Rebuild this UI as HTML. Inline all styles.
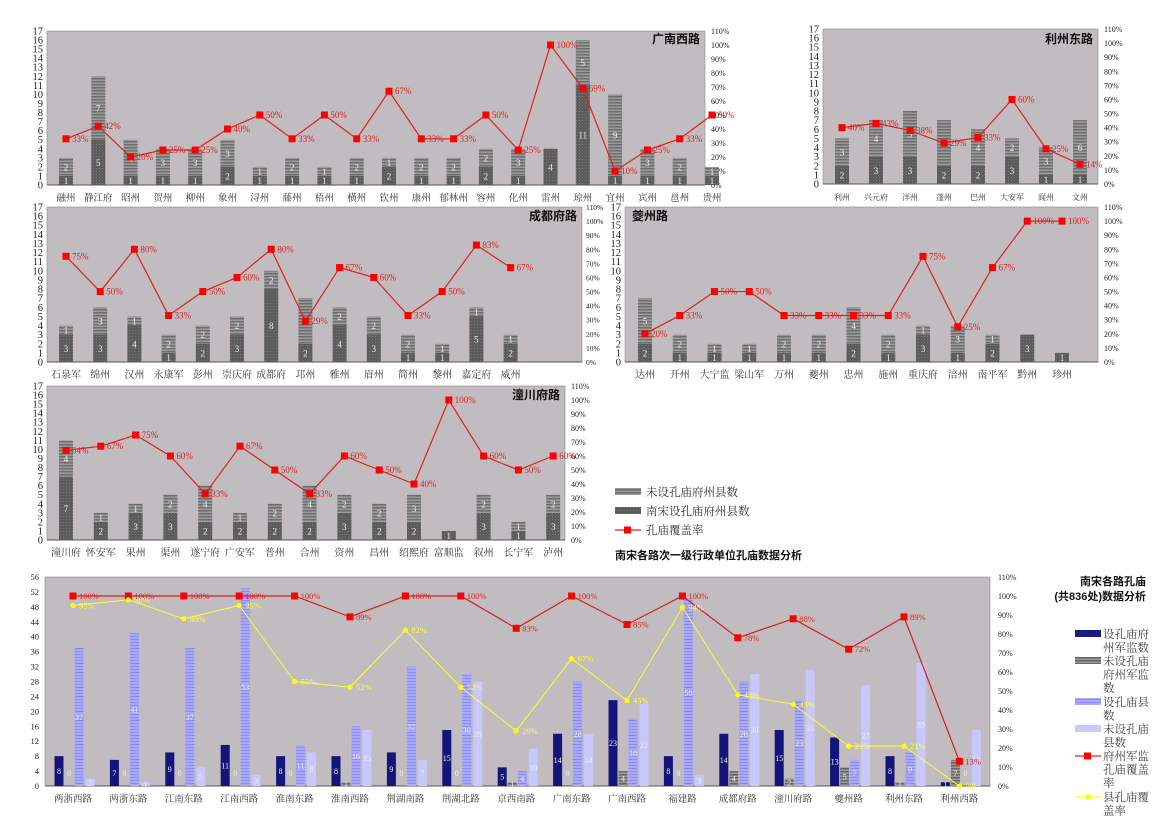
<!DOCTYPE html>
<html><head><meta charset="utf-8"><style>
html,body{margin:0;padding:0;background:#fff;width:1176px;height:831px;overflow:hidden}
svg{display:block}
text{font-family:"Liberation Serif","Noto Serif CJK SC",serif}
.b{font-family:"Liberation Sans","Noto Sans CJK SC",sans-serif;font-weight:bold}
</style></head><body>
<svg id="s" width="1176" height="831" xmlns="http://www.w3.org/2000/svg">
<defs>
<pattern id="st" width="4" height="3" patternUnits="userSpaceOnUse"><rect width="4" height="3" fill="#9a9a9a"/><rect width="4" height="1.5" fill="#6e6e6e"/></pattern>
<pattern id="dk" width="3" height="3" patternUnits="userSpaceOnUse"><rect width="3" height="3" fill="#5c5c5c"/><rect width="1" height="1" fill="#777"/></pattern>
<pattern id="bl" width="4" height="3" patternUnits="userSpaceOnUse"><rect width="4" height="3" fill="#a8a8ff"/><rect width="4" height="1" fill="#8c8cf0"/></pattern>
<pattern id="gr" width="4" height="3" patternUnits="userSpaceOnUse"><rect width="4" height="3" fill="#9a9a9a"/><rect width="4" height="1.5" fill="#666"/></pattern>
</defs>
</svg>
<script>
var S=document.getElementById('s'),h='';
function t(x,y,s,sz,col,anc,cls){h+='<text x="'+x+'" y="'+y+'" font-size="'+sz+'" fill="'+(col||'#222')+'" text-anchor="'+(anc||'start')+'"'+(cls?' class="'+cls+'"':'')+'>'+s+'</text>';}
function r(x,y,w,hh,f,st){h+='<rect x="'+x+'" y="'+y+'" width="'+w+'" height="'+hh+'" fill="'+f+'"'+(st?' stroke="'+st+'" stroke-width="0.6"':'')+'/>';}
function chart(o){
 var W=o.x1-o.x0,H=o.yb-o.yt;
 r(o.x0,o.yt,W,H,'#c0bcc0','#888');
 h+='<line x1="'+o.x0+'" y1="'+o.yb+'" x2="'+o.x1+'" y2="'+o.yb+'" stroke="#555" stroke-width="1"/>';
 for(var i=0;i<=17;i++){var y=o.yb-H*i/17;t(o.x0-4,y+3.5,i,10.5,'#222','end');}
 for(var i=0;i<=11;i++){var y=o.yb-H*i/11;t(o.x1+(o.rg||6),y+3,(i*10)+'%',o.rs||8,'#222');}
 var n=o.c.length,pts=[];
 for(var i=0;i<n;i++){
  var cx=o.c0+o.sp*i,d=o.d[i],u=H/17,bw=14;
  var hd=d[0]*u,hs=d[1]*u;
  r(cx-bw/2,o.yb-hd,bw,hd,'url(#dk)');
  if(d[1])r(cx-bw/2,o.yb-hd-hs,bw,hs,'url(#st)');
  if(d[0]){t(cx,o.yb-hd/2+3.5,d[0],9,'#eee','middle');}
  if(d[1]){t(cx,o.yb-hd-hs/2+3.5,d[1],9,'#eee','middle');}
  var py=o.yb-H*d[2]/110;pts.push(cx+','+py);
  t(cx,o.yb+16,o.c[i],o.fs||10,'#333','middle');
 }
 h+='<polyline points="'+pts.join(' ')+'" fill="none" stroke="#e02020" stroke-width="1.2"/>';
 for(var i=0;i<n;i++){var p=pts[i].split(',');r(+p[0]-3.5,+p[1]-3.5,7,7,'#f00');t(+p[0]+6,+p[1]+3,o.d[i][2]+'%',9,'#e02020');}
 t(o.tx,o.ty,o.title,12,'#111',o.ta||'end','b');
}
chart({x0:47,x1:705,yt:31,yb:185,c0:66,sp:32.3,title:'广南西路',tx:700,ty:43,fs:9.5,
c:['融州','静江府','昭州','贺州','柳州','象州','浔州','藤州','梧州','横州','钦州','康州','郁林州','容州','化州','雷州','琼州','宜州','宾州','邕州','贵州'],
d:[[1,2,33],[5,7,42],[1,4,20],[1,3,25],[1,3,25],[2,3,40],[1,1,50],[1,2,33],[1,1,50],[1,2,33],[2,1,67],[1,2,33],[1,2,33],[2,2,50],[1,3,25],[4,0,100],[11,5,69],[1,9,10],[1,3,25],[1,2,33],[1,1,50]]});
chart({x0:823,x1:1098,yt:29,yb:184,c0:842,sp:34,title:'利州东路',tx:1093,ty:43,fs:8,
c:['利州','兴元府','洋州','蓬州','巴州','大安军','阆州','文州'],
d:[[2,3,40],[3,4,43],[3,5,38],[2,5,29],[2,4,33],[3,2,60],[1,3,25],[1,6,14]]});
chart({x0:47,x1:582,yt:207,yb:362,c0:66,sp:34.2,title:'成都府路',tx:577,ty:220,rg:4,rs:7.5,
c:['石泉军','绵州','汉州','永康军','彭州','崇庆府','成都府','邛州','雅州','眉州','简州','黎州','嘉定府','威州'],
d:[[3,1,75],[3,3,50],[4,1,80],[1,2,33],[2,2,50],[3,2,60],[8,2,80],[2,5,29],[4,2,67],[3,2,60],[1,2,33],[1,1,50],[5,1,83],[2,1,67]]});
chart({x0:625,x1:1098,yt:207,yb:362,c0:645,sp:34.75,title:'夔州路',tx:632,ty:220,ta:'start',
c:['达州','开州','大宁监','梁山军','万州','夔州','忠州','施州','重庆府','涪州','南平军','黔州','珍州'],
d:[[2,5,20],[1,2,33],[1,1,50],[1,1,50],[1,2,33],[1,2,33],[2,4,33],[1,2,33],[3,1,75],[1,3,25],[2,1,67],[3,0,100],[1,0,100]]});
chart({x0:47,x1:565,yt:386,yb:540,c0:66,sp:34.8,title:'潼川府路',tx:560,ty:399,
c:['潼川府','怀安军','果州','渠州','遂宁府','广安军','普州','合州','资州','昌州','绍熙府','富顺监','叙州','长宁军','泸州'],
d:[[7,4,64],[2,1,67],[3,1,75],[3,2,60],[2,4,33],[2,1,67],[2,2,50],[2,4,33],[3,2,60],[2,2,50],[2,3,40],[1,0,100],[3,2,60],[1,1,50],[3,2,60]]});
r(615,488,26,7,'url(#st)');t(646,496,'未设孔庙府州县数',11.5,'#333');
r(615,507,26,7,'url(#dk)');t(646,515,'南宋设孔庙府州县数',11.5,'#333');
h+='<line x1="615" y1="530" x2="641" y2="530" stroke="#e02020" stroke-width="1.2"/>';r(624,526.5,7,7,'#f00');t(646,534,'孔庙覆盖率',11.5,'#333');
t(615,559,'南宋各路次一级行政单位孔庙数据分析',11,'#111','start','b');
(function(){
 var x0=45,x1=990,yt=577,yb=786,H=yb-yt;
 r(x0,yt,x1-x0,H,'#c0bcc0','#888');
 h+='<line x1="'+x0+'" y1="'+yb+'" x2="'+x1+'" y2="'+yb+'" stroke="#555"/>';
 for(var i=0;i<=14;i++){var y=yb-H*i*4/56;t(x0-6,y+3,i*4,8.5,'#222','end');}
 for(var i=0;i<=11;i++){var y=yb-H*i/11;t(x1+8,y+3,(i*10)+'%',8,'#222');}
 var c=['两浙西路','两浙东路','江南东路','江南西路','淮南东路','淮南西路','荆湖南路','荆湖北路','京西南路','广南东路','广南西路','福建路','成都府路','潼川府路','夔州路','利州东路','利州西路'];
 var d=[[8,0,37,2,100,95],[7,0,41,1,100,98],[9,0,37,5,100,88],[11,0,53,3,100,95],[8,0,11,9,100,55],[8,1,16,15,89,52],[9,0,32,7,100,82],[15,0,30,28,100,52],[5,1,4,10,83,29],[14,0,28,14,100,67],[23,4,18,22,85,45],[8,0,50,3,100,94],[14,4,28,30,78,48],[15,2,23,31,88,43],[13,5,7,27,72,21],[8,1,9,33,89,21],[1,7,0,15,13,0]];
 var fills=['#14147a','url(#gr)','url(#bl)','#c8c8ff'],off=[-14,-4,6,17],rp=[],yp=[],u=H/56;
 for(var i=0;i<17;i++){
  var cx=73+55.4*i;
  for(var k=0;k<4;k++){var v=d[i][k],bh=v*u,bx=cx+off[k]-4.5;
   if(v)r(bx,yb-bh,9,bh,fills[k]);
   var ly=v?yb-bh/2+3:yb-10;
   t(bx+4.5,ly,v,8,'#f0f0f0','middle');}
  t(cx,yb+16,c[i],9.5,'#333','middle');
  rp.push([cx,yb-H*d[i][4]/110]);yp.push([cx,yb-H*d[i][5]/110]);
 }
 h+='<polyline points="'+yp.map(function(p){return p.join(',')}).join(' ')+'" fill="none" stroke="#ffff33" stroke-width="1"/>';
 h+='<polyline points="'+rp.map(function(p){return p.join(',')}).join(' ')+'" fill="none" stroke="#d02020" stroke-width="1.2"/>';
 for(var i=0;i<17;i++){
  var p=rp[i];r(p[0]-3.5,p[1]-3.5,7,7,'#f00');t(p[0]+6,p[1]+3,d[i][4]+'%',8.5,'#e02020');
  p=yp[i];h+='<circle cx="'+p[0]+'" cy="'+p[1]+'" r="2.6" fill="#ffff00"/>';t(p[0]+6,p[1]+3,d[i][5]+'%',8.5,'#ffff40');
 }
 t(1146,585,'南宋各路孔庙',11,'#111','end','b');
 t(1146,600,'(共836处)数据分析',11,'#111','end','b');
 var lh=13.5,fs=11.5;
 var L=[['#1a1a80',638,['设孔庙府','州军监数']],['url(#gr)',665,['未设孔庙','府州军监','数']],['url(#bl)',706,['设孔庙县','数']],['#c8c8ff',733,['未设孔庙','县数']]];
 for(var i=0;i<4;i++){r(1075,L[i][1]-8,26,7,L[i][0]);for(var j=0;j<L[i][2].length;j++){t(1103,L[i][1]+j*lh,L[i][2][j],fs,'#444');}}
 h+='<line x1="1075" y1="756" x2="1101" y2="756" stroke="#e02020" stroke-width="1.2"/>';r(1084,752.5,7,7,'#f00');
 t(1103,760,'府州军监',fs,'#444');t(1103,773.5,'孔庙覆盖',fs,'#444');t(1103,787,'率',fs,'#444');
 h+='<line x1="1075" y1="797" x2="1101" y2="797" stroke="#ffff00" stroke-width="1.2"/><circle cx="1088" cy="797" r="3" fill="#ffff00"/>';
 t(1103,801,'县孔庙覆',fs,'#444');t(1103,814.5,'盖率',fs,'#444');
})();
S.innerHTML+=h;
</script>
</body></html>
